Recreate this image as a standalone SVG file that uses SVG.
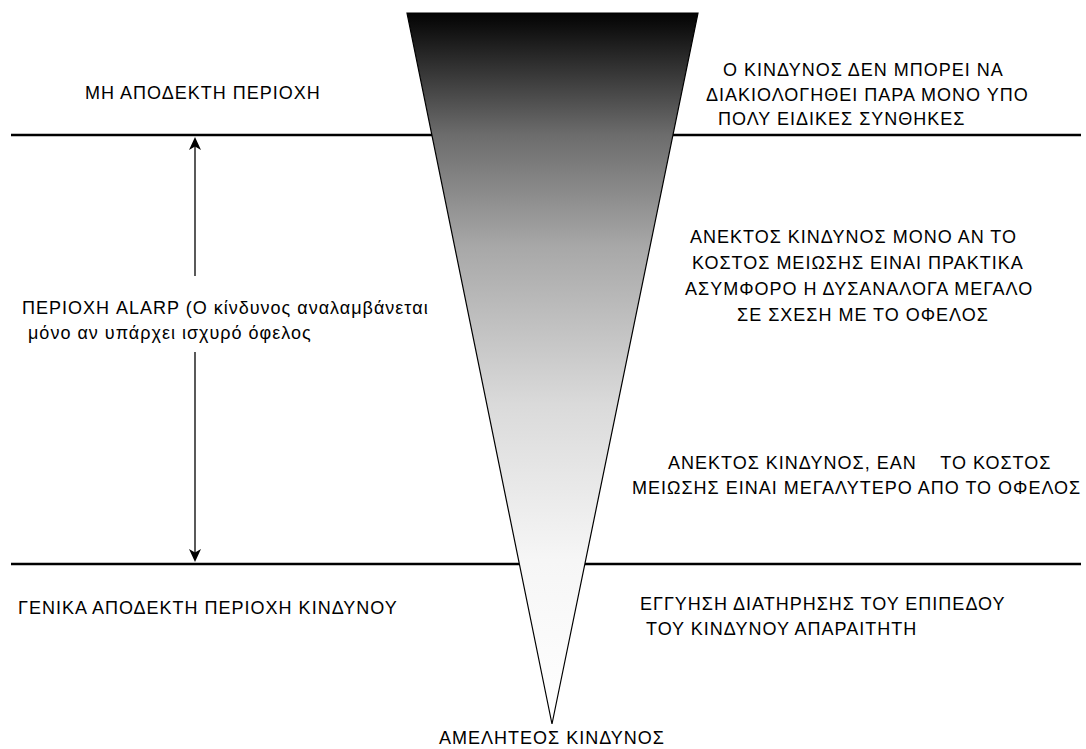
<svg xmlns="http://www.w3.org/2000/svg" width="1086" height="749" viewBox="0 0 1086 749">
  <style>
    .t { font-family: "Liberation Sans", Arial, sans-serif; font-size: 18px; letter-spacing: 1px; fill: #000; }
    .hl { stroke: #000; stroke-width: 2.6; fill: none; }
    .vl { stroke: #000; stroke-width: 1.3; fill: none; }
    .ah { fill: #000; stroke: none; }
  </style>
  <defs>
    <linearGradient id="g" gradientUnits="userSpaceOnUse" x1="0" y1="13" x2="0" y2="724">
      <stop offset="0" stop-color="#030303"/>
      <stop offset="0.171" stop-color="#6c6c6c"/>
      <stop offset="0.33" stop-color="#a8a8a8"/>
      <stop offset="0.55" stop-color="#dadada"/>
      <stop offset="0.77" stop-color="#f6f6f6"/>
      <stop offset="1" stop-color="#ffffff"/>
    </linearGradient>
  </defs>
  <rect width="1086" height="749" fill="#fff"/>

  <g id="cone">
    <polygon points="407,13 698,13 552,724" fill="url(#g)" stroke="#000" stroke-width="1.2"/>
  </g>

  <g id="connectors">
    <line class="hl" x1="11" y1="135" x2="432" y2="135"/>
    <line class="hl" x1="673" y1="135" x2="1081" y2="135"/>
    <line class="hl" x1="11" y1="564" x2="519" y2="564"/>
    <line class="hl" x1="585" y1="564" x2="1081" y2="564"/>
    <line class="vl" x1="195" y1="146" x2="195" y2="276"/>
    <line class="vl" x1="195" y1="352" x2="195" y2="554"/>
    <path class="ah" d="M195,137 L201,150 L195,146.5 L189,150 Z"/>
    <path class="ah" d="M195,562 L201,549 L195,552.5 L189,549 Z"/>
  </g>

  <g id="unacceptable">
    <text class="t" x="85" y="99">ΜΗ ΑΠΟΔΕΚΤΗ ΠΕΡΙΟΧΗ</text>
  </g>
  <g id="unacceptable-note">
    <text class="t" x="723" y="76">Ο ΚΙΝΔΥΝΟΣ ΔΕΝ ΜΠΟΡΕΙ ΝΑ</text>
    <text class="t" x="706" y="101">ΔΙΑΚΙΟΛΟΓΗΘΕΙ ΠΑΡΑ ΜΟΝΟ ΥΠΟ</text>
    <text class="t" x="718" y="125">ΠΟΛΥ ΕΙΔΙΚΕΣ ΣΥΝΘΗΚΕΣ</text>
  </g>
  <g id="alarp">
    <text class="t" x="22" y="314" xml:space="preserve">ΠΕΡΙΟΧΗ ALARP (Ο κίνδυνος αναλαμβάνεται</text>
    <text class="t" x="22" y="339" xml:space="preserve"> μόνο αν υπάρχει ισχυρό όφελος</text>
  </g>
  <g id="tolerable-1">
    <text class="t" x="690" y="243">ΑΝΕΚΤΟΣ ΚΙΝΔΥΝΟΣ ΜΟΝΟ ΑΝ ΤΟ</text>
    <text class="t" x="692" y="269">ΚΟΣΤΟΣ ΜΕΙΩΣΗΣ ΕΙΝΑΙ ΠΡΑΚΤΙΚΑ</text>
    <text class="t" x="685" y="295">ΑΣΥΜΦΟΡΟ Η ΔΥΣΑΝΑΛΟΓΑ ΜΕΓΑΛΟ</text>
    <text class="t" x="737" y="321">ΣΕ ΣΧΕΣΗ ΜΕ ΤΟ ΟΦΕΛΟΣ</text>
  </g>
  <g id="tolerable-2">
    <text class="t" x="668" y="469" xml:space="preserve">ΑΝΕΚΤΟΣ ΚΙΝΔΥΝΟΣ, ΕΑΝ    ΤΟ ΚΟΣΤΟΣ</text>
    <text class="t" x="632" y="494">ΜΕΙΩΣΗΣ ΕΙΝΑΙ ΜΕΓΑΛΥΤΕΡΟ ΑΠΟ ΤΟ ΟΦΕΛΟΣ</text>
  </g>
  <g id="acceptable">
    <text class="t" x="18" y="614">ΓΕΝΙΚΑ ΑΠΟΔΕΚΤΗ ΠΕΡΙΟΧΗ ΚΙΝΔΥΝΟΥ</text>
  </g>
  <g id="acceptable-note">
    <text class="t" x="640" y="610">ΕΓΓΥΗΣΗ ΔΙΑΤΗΡΗΣΗΣ ΤΟΥ ΕΠΙΠΕΔΟΥ</text>
    <text class="t" x="646" y="635">ΤΟΥ ΚΙΝΔΥΝΟΥ ΑΠΑΡΑΙΤΗΤΗ</text>
  </g>
  <g id="negligible">
    <text class="t" x="552" y="744" text-anchor="middle">ΑΜΕΛΗΤΕΟΣ ΚΙΝΔΥΝΟΣ</text>
  </g>
</svg>
